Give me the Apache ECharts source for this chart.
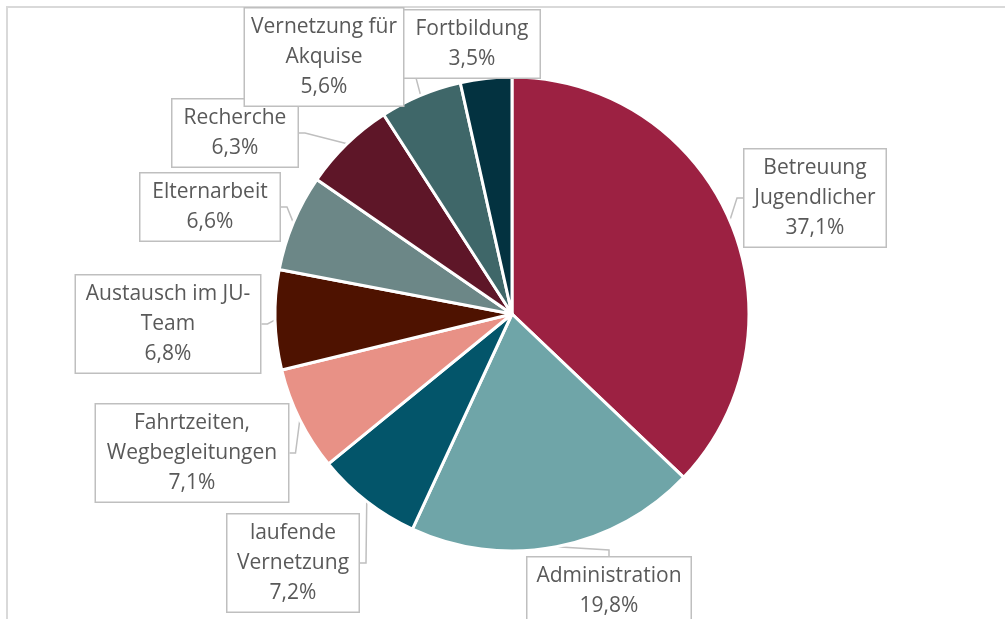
<!DOCTYPE html>
<html>
<head>
<meta charset="utf-8">
<script src="https://cdn.jsdelivr.net/npm/echarts@6/dist/echarts.min.js"></script>
<style>
  html, body { margin: 0; padding: 0; background: #fff; }
  #chart { width: 1005px; height: 619px; }
</style>
</head>
<body>
<div id="chart"></div>
<script>
// Kategorien (Zeilenumbrüche wie im Original-Diagramm)
var categories = [
  "Betreuung\nJugendlicher",
  "Administration",
  "laufende\nVernetzung",
  "Fahrtzeiten,\nWegbegleitungen",
  "Austausch im JU-\nTeam",
  "Elternarbeit",
  "Recherche",
  "Vernetzung für\nAkquise",
  "Fortbildung"
];
// Anteile in Prozent
var shares = [37.1, 19.8, 7.2, 7.1, 6.8, 6.6, 6.3, 5.6, 3.5];

var colors = ["#9C2142", "#6FA5A8", "#03556A", "#E89186", "#4E1200",
              "#6C8787", "#5E1628", "#3F6769", "#033240"];

// Position (Mitte) und Breite der Beschriftungskästen
var labelBoxes = [
  [815, 198, 141],
  [609, 591, 163],
  [293, 563, 131],
  [192, 453, 192],
  [168, 324, 184],
  [210, 207, 139],
  [235, 133, 125],
  [324, 57, 158],
  [472, 44, 135]
];

var myChart = echarts.init(document.getElementById("chart"));

var seriesData = categories.map(function (name, i) {
  return {
    name: name,
    value: shares[i],
    label: { width: labelBoxes[i][2] }
  };
});

var option = {
  animation: false,
  color: colors,
  graphic: [{
    type: "rect",
    shape: { x: 7, y: 7, width: 1100, height: 700 },
    style: { fill: "none", stroke: "#D9D9D9", lineWidth: 2 },
    silent: true
  }],
  series: [{
    type: "pie",
    center: [512, 314],
    radius: 237,
    startAngle: 90,
    clockwise: true,
    itemStyle: { borderColor: "#fff", borderWidth: 3 },
    label: {
      show: true,
      position: "outside",
      formatter: function (p) {
        return p.name + "\n" + p.value.toFixed(1).replace(".", ",") + "%";
      },
      fontFamily: "Open Sans",
      fontSize: 21,
      lineHeight: 30,
      color: "#595959",
      align: "center",
      backgroundColor: "#fff",
      borderColor: "#BFBFBF",
      borderWidth: 1.5,
      padding: [6, 0, 1, 0]
    },
    labelLine: {
      show: true,
      length: 8,
      length2: 6,
      lineStyle: { color: "#BFBFBF", width: 1.5 }
    },
    labelLayout: function (params) {
      var b = labelBoxes[params.dataIndex];
      return { x: b[0], y: b[1], align: "center", verticalAlign: "middle" };
    },
    data: seriesData
  }]
};

myChart.setOption(option);
window.onresize = myChart.resize;
</script>
</body>
</html>
